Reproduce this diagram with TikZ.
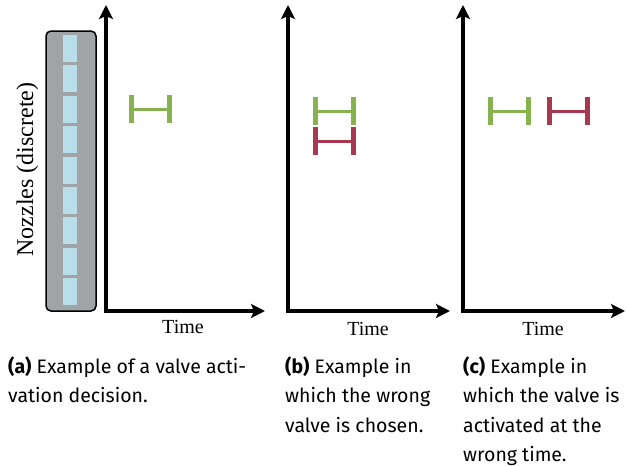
\documentclass[tikz,border=0pt]{standalone}
\usepackage{fontspec}
\setmainfont{Liberation Serif}
\newfontfamily\capfont{Fira Sans}
\usetikzlibrary{arrows.meta}
\definecolor{boxgray}{RGB}{161,164,166}
\definecolor{nozblue}{RGB}{184,222,234}
\definecolor{okgreen}{RGB}{134,178,80}
\definecolor{badred}{RGB}{168,56,80}
\tikzset{
  axis/.style={line width=3.3pt, {Stealth[length=14pt,width=14pt,inset=3pt]}-{Stealth[length=14pt,width=14pt,inset=3pt]}},
  timelabel/.style={font=\fontsize{20}{24}\selectfont, anchor=base, inner sep=0pt},
  caption/.style={font=\capfont\fontsize{19.5}{23}\selectfont, anchor=base west, inner sep=0pt},
  hbar/.pic={
    \draw[line width=3pt] (-19,0) -- (19,0);
    \draw[line width=5pt] (-19,-14) -- (-19,14) (19,-14) -- (19,14);
  }
}
\begin{document}
\begin{tikzpicture}[x=1pt,y=-1pt]
\useasboundingbox (0,0) rectangle (627,466);
% nozzle array
\node[draw=black, line width=1.5pt, fill=boxgray, rounded corners=5pt, minimum width=50pt, minimum height=280pt, inner sep=0pt] (noz) at (71,171) {};
\foreach \i in {0,...,8}{
  \fill[nozblue] (63,{35+30.4*\i}) rectangle (77,{62+30.4*\i});
}
\node[rotate=90, anchor=base, inner sep=0pt, font=\fontsize{24}{28}\selectfont] (nozlab) at (33,169.5) {Nozzles (discrete)};
% axes
\coordinate (a0) at (106,311); \coordinate (aT) at (106,5); \coordinate (aR) at (265,311);
\coordinate (b0) at (288,311); \coordinate (bT) at (288,5); \coordinate (bR) at (450,311);
\coordinate (c0) at (463,311); \coordinate (cT) at (463,5); \coordinate (cR) at (625,311);
\draw[axis] (aT) -- (a0) -- (aR);
\draw[axis] (bT) -- (b0) -- (bR);
\draw[axis] (cT) -- (c0) -- (cR);
\node[timelabel] (ta) at (183,333) {Time};
\node[timelabel] (tb) at (368,335) {Time};
\node[timelabel] (tc) at (543,335) {Time};
% activations
\pic[okgreen] at (150.5,109) {hbar};
\pic[okgreen] at (334.5,111) {hbar};
\pic[badred] at (334.5,141) {hbar};
\pic[okgreen] at (509.5,111) {hbar};
\pic[badred] at (568.5,111) {hbar};
% captions
\node[caption] (ca1) at (8,373) {\textbf{(a)} Example of a valve acti-};
\node[caption] (ca2) at (8,402.5) {vation decision.};
\node[caption] (cb1) at (285,373) {\textbf{(b)} Example in};
\node[caption] (cb2) at (285,402.5) {which the wrong};
\node[caption] (cb3) at (285,432) {valve is chosen.};
\node[caption] (cc1) at (463,373) {\textbf{(c)} Example in};
\node[caption] (cc2) at (463,402.5) {which the valve is};
\node[caption] (cc3) at (463,432) {activated at the};
\node[caption] (cc4) at (463,461.5) {wrong time.};
\end{tikzpicture}
\end{document}
